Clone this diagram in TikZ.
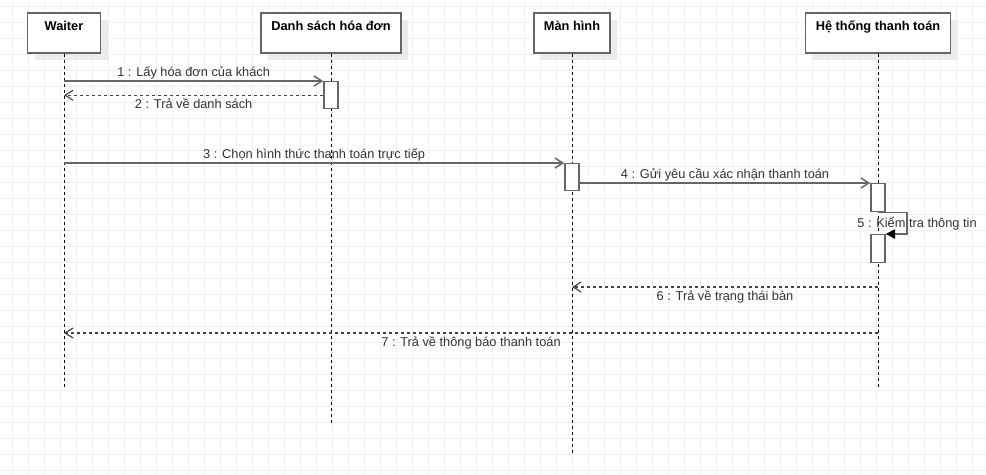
\documentclass[tikz,border=0pt]{standalone}
\usepackage{fontspec}
\setmainfont{Liberation Sans}
\usetikzlibrary{arrows.meta,shadows}
\definecolor{gridcol}{HTML}{F0F0F0}
\definecolor{edgecol}{HTML}{666666}
\definecolor{dashcol}{HTML}{444444}
\definecolor{shadecol}{HTML}{EBEBEB}
\definecolor{textcol}{HTML}{333333}
\begin{document}
\begin{tikzpicture}[x=0.75pt, y=-0.75pt,
        head/.style={draw=edgecol, line width=1.1pt, fill=white, font=\fontsize{9.6}{11}\selectfont\bfseries,
            text height=9.75pt, text depth=14.25pt, inner ysep=3pt, inner xsep=0pt,
            general shadow={fill=shadecol, shadow xshift=5.25pt, shadow yshift=-5.25pt}},
        lifeline/.style={black, line width=0.75pt, dash pattern=on 2.25pt off 2.25pt},
        act/.style={draw=edgecol, line width=1.1pt, fill=white, minimum width=10.5pt, inner sep=0pt, anchor=north},
        call/.style={edgecol, line width=1.1pt, -{Straight Barb[length=6pt,width=7.5pt]}},
        reply/.style={dashcol, line width=0.9pt, dash pattern=on 2.25pt off 2.25pt, -{Straight Barb[length=6pt,width=7.5pt]}},
        msg/.style={text=textcol, font=\fontsize{9.6}{11}\selectfont, anchor=base, inner sep=0pt},
        msgup/.style={yshift=3.75pt},
        msgdown/.style={yshift=-10pt}]
            \useasboundingbox (0,0) rectangle (986,475);
            \foreach \x in {12,28,...,988}
                \draw[gridcol, line width=0.75pt] (\x,0) -- (\x,475);
            \foreach \y in {6,22,...,470}
                \draw[gridcol, line width=0.75pt] (0,\y) -- (986,\y);
            \foreach \name/\x/\w/\len/\txt in {waiter/64/54.75pt/334/Waiter, dsach/331/105pt/369/Danh sách hóa đơn, manhinh/572/57pt/400/Màn hình, hethong/878/108.75pt/334/Hệ thống thanh toán}
                {
                    \node[head, minimum width=\w] (\name) at (\x,33) {\txt};
                    \draw[lifeline] (\name.south) -- ++(0,\len);
                }
            \node[act, minimum height=20.25pt] (act1) at (331,81) {};
            \node[act, minimum height=20.25pt] (act3) at (572,163) {};
            \node[act, minimum height=21pt] (act4) at (878,183) {};
            \node[act, minimum height=21pt] (act5) at (878,234) {};
            \coordinate (r6) at (878,287);
            \coordinate (r7) at (878,333);
            \draw[call] (waiter.south |- act1.north) -- node[msg, msgup] (m1) {1 : Lấy hóa đơn của khách} (act1.north west);
            \draw[reply] (act1.west) -- node[msg, msgdown] (m2) {2 : Trả về danh sách} (waiter.south |- act1.west);
            \draw[call] (waiter.south |- act3.north) -- node[msg, msgup] (m3) {3 : Chọn hình thức thanh toán trực tiếp} (act3.north west);
            \draw[call] (act3.east |- act4.north) -- node[msg, msgup] (m4) {4 : Gửi yêu cầu xác nhận thanh toán} (act4.north west);
            \draw[call, -{Triangle[length=7pt,width=7pt,color=black]}] (act4.south) -- ++(29,0) |- (act5.north east);
            \node[msg] (m5) at (917,227) {5 : Kiểm tra thông tin};
            \draw[reply] (r6) -- node[msg, msgdown] (m6) {6 : Trả về trạng thái bàn} (manhinh.south |- r6);
            \draw[reply] (r7) -- node[msg, msgdown] (m7) {7 : Trả về thông báo thanh toán} (waiter.south |- r7);
        \end{tikzpicture}
\end{document}
